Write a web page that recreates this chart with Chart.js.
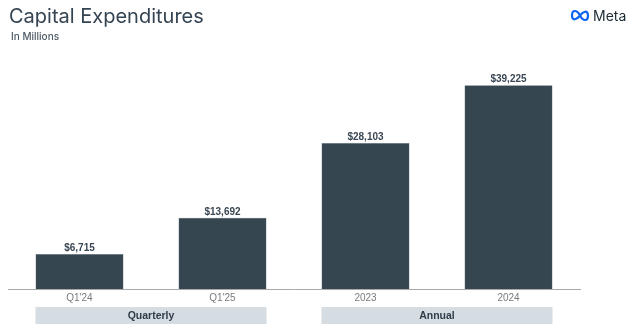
<!DOCTYPE html>
<html>
<head>
<meta charset="utf-8">
<script src="https://cdn.jsdelivr.net/npm/chart.js@4.4.1/dist/chart.umd.min.js"></script>
<style>
  html, body { margin: 0; padding: 0; background: #fff; }
  #wrap { width: 640px; height: 330px; position: relative; }
</style>
</head>
<body>
<div id="wrap"><canvas id="capexChart"></canvas></div>
<script>
const categories = ["Q1'24", "Q1'25", "2023", "2024"];
const capex = [6715, 13692, 28103, 39225];
const valueLabels = ["$6,715", "$13,692", "$28,103", "$39,225"];
const groups = [
  { label: "Quarterly", from: 0, to: 1 },
  { label: "Annual", from: 2, to: 3 }
];

const BAR = "#354651";
const TEXT = "#344452";

// titles, logo, value labels and the group boxes under the axis
const decorations = {
  id: "decorations",
  afterDraw(chart) {
    const ctx = chart.ctx;
    const bars = chart.getDatasetMeta(0).data;
    ctx.save();

    // title
    ctx.fillStyle = TEXT;
    ctx.textAlign = "left";
    ctx.textBaseline = "alphabetic";
    ctx.font = "20px Inter, 'Noto Sans', sans-serif";
    ctx.fillText("Capital Expenditures", 9, 23);
    ctx.fillStyle = "#4b5965";
    ctx.font = "500 10px Inter, 'Noto Sans', sans-serif";
    ctx.fillText("In Millions", 11, 40);

    // meta logo
    ctx.strokeStyle = "#0a66f0";
    ctx.lineWidth = 2.2;
    ctx.beginPath();
    const cx = 580, cy = 15.5;
    ctx.moveTo(cx, cy);
    ctx.bezierCurveTo(cx - 3, cy - 6, cx - 8, cy - 6, cx - 8, cy);
    ctx.bezierCurveTo(cx - 8, cy + 6, cx - 3, cy + 4, cx, cy);
    ctx.bezierCurveTo(cx + 3, cy - 4, cx + 8, cy - 6, cx + 8, cy);
    ctx.bezierCurveTo(cx + 8, cy + 6, cx + 3, cy + 6, cx, cy);
    ctx.stroke();
    ctx.fillStyle = "#1c2b33";
    ctx.font = "14px Inter, 'Noto Sans', sans-serif";
    ctx.fillText("Meta", 593, 20.5);

    // value labels
    ctx.fillStyle = "#3a4753";
    ctx.textAlign = "center";
    ctx.font = "bold 10px 'Liberation Sans', Arial, sans-serif";
    bars.forEach((b, i) => ctx.fillText(valueLabels[i], b.x, b.y - 3));

    // group boxes
    groups.forEach(g => {
      const a = bars[g.from], z = bars[g.to];
      const x0 = a.x - a.width / 2, x1 = z.x + z.width / 2;
      ctx.fillStyle = "#d5dce2";
      ctx.fillRect(x0, 307, x1 - x0, 17);
      ctx.fillStyle = "#2f3d49";
      ctx.font = "bold 10.5px 'Liberation Sans', Arial, sans-serif";
      ctx.textBaseline = "middle";
      ctx.fillText(g.label, (x0 + x1) / 2, 316);
    });
    ctx.restore();
  }
};

new Chart(document.getElementById("capexChart"), {
  type: "bar",
  data: {
    labels: categories,
    datasets: [{
      data: capex,
      backgroundColor: BAR,
      borderColor: "#5d6c76",
      borderWidth: 0.5,
      categoryPercentage: 1,
      barPercentage: 0.615
    }]
  },
  options: {
    responsive: true,
    maintainAspectRatio: false,
    animation: false,
    layout: { padding: { top: 63, left: 8, right: 60, bottom: 23 } },
    plugins: {
      legend: { display: false },
      tooltip: { enabled: false }
    },
    scales: {
      x: {
        grid: { display: false, drawTicks: false },
        border: { display: true, color: "#a9a9a9", width: 1 },
        ticks: {
          padding: 3,
          color: "#7a7a7a",
          font: { family: "'Liberation Sans', Arial, sans-serif", size: 10 }
        }
      },
      y: {
        display: false,
        min: 0,
        max: 43500
      }
    }
  },
  plugins: [decorations]
});
</script>
</body>
</html>
